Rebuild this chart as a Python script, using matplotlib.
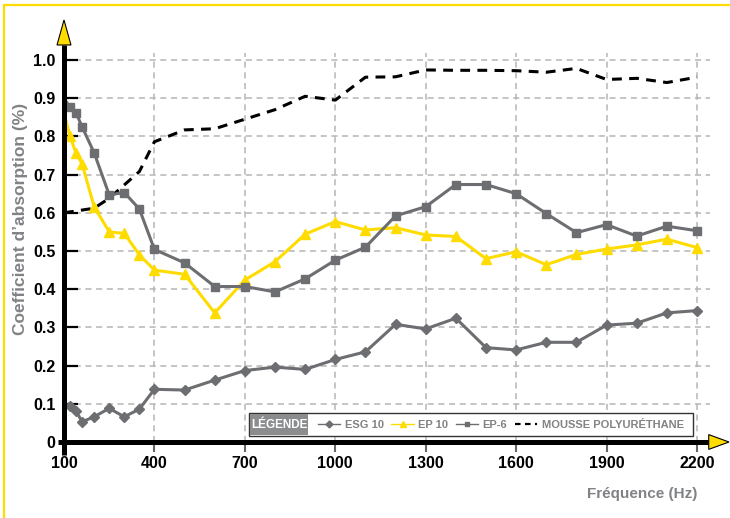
import matplotlib
matplotlib.use("Agg")
import matplotlib.pyplot as plt
from matplotlib.lines import Line2D
from matplotlib.patches import Polygon, Rectangle

plt.rcParams['font.family'] = ['Liberation Sans', 'DejaVu Sans']

# frequencies (Hz)
freq = [100, 120, 140, 160, 200, 250, 300, 350, 400, 500, 600, 700, 800, 900, 1000,
        1100, 1200, 1300, 1400, 1500, 1600, 1700, 1800, 1900, 2000, 2100, 2200]
esg10 = [0.097, 0.095, 0.081, 0.053, 0.066, 0.088, 0.066, 0.086, 0.138, 0.136, 0.162,
         0.187, 0.196, 0.19, 0.216, 0.236, 0.308, 0.296, 0.324, 0.247, 0.241, 0.261,
         0.261, 0.306, 0.311, 0.338, 0.344]
ep10 = [0.86, 0.80, 0.756, 0.728, 0.616, 0.55, 0.546, 0.49, 0.45, 0.439, 0.338,
        0.424, 0.472, 0.544, 0.577, 0.555, 0.561, 0.542, 0.538, 0.48, 0.498, 0.464,
        0.491, 0.505, 0.516, 0.531, 0.509]
ep6 = [0.90, 0.876, 0.862, 0.825, 0.757, 0.647, 0.653, 0.61, 0.504, 0.469, 0.407,
       0.407, 0.393, 0.427, 0.476, 0.51, 0.592, 0.616, 0.674, 0.674, 0.65, 0.598,
       0.548, 0.569, 0.539, 0.565, 0.553]
freq_mousse = [100, 200, 250, 350, 400, 500, 600, 700, 800, 900, 1000, 1100, 1200,
               1300, 1400, 1500, 1600, 1700, 1800, 1900, 2000, 2100, 2200]
mousse = [0.60, 0.612, 0.638, 0.708, 0.786, 0.817, 0.82, 0.845, 0.87, 0.905, 0.895,
          0.955, 0.956, 0.974, 0.973, 0.973, 0.972, 0.968, 0.978, 0.949, 0.952, 0.941,
          0.955]

xticks = [100, 400, 700, 1000, 1300, 1600, 1900, 2200]
yticks = [0, 0.1, 0.2, 0.3, 0.4, 0.5, 0.6, 0.7, 0.8, 0.9, 1.0]
ytick_labels = ['0', '0.1', '0.2', '0.3', '0.4', '0.5', '0.6', '0.7', '0.8', '0.9', '1.0']

GRAY = '#6d6e71'
YELLOW = '#ffdc00'
TXT_GRAY = '#808285'
W, H = 730, 518

fig = plt.figure(figsize=(7.3, 5.18), dpi=100)
# axes box in pixels: left 64, right 710, top 53, bottom 442
ax = fig.add_axes([64 / W, 1 - 442 / H, 646 / W, 389 / H])
ax.set_xlim(100, 100 + 646 / 0.30143)
ax.set_ylim(0, 389 / 382)

# yellow frame round the figure
fig.patches.append(Rectangle((4 / W, -0.02), 1.1, 1 - 5 / H + 0.02, transform=fig.transFigure,
                             fill=False, edgecolor=YELLOW, lw=1.6))

ax.grid(True, color='#b5b5b5', ls=(0, (4, 3)), lw=1.1)
ax.set_axisbelow(True)

ax.plot(freq_mousse, mousse, color='black', lw=2.2, ls=(0, (3.2, 2.4)), zorder=3)
ax.plot(freq, esg10, color=GRAY, lw=2.2, marker='D', ms=5.5, markevery=slice(1, None), zorder=4)
ax.plot(freq, ep10, color=YELLOW, lw=2.2, marker='^', ms=7, markevery=slice(1, None), zorder=4)
ax.plot(freq, ep6, color=GRAY, lw=2.2, marker='s', ms=6, markevery=slice(1, None), zorder=4)

for s in ax.spines.values():
    s.set_visible(False)

# axis lines with yellow arrow heads
ax.plot([0, 0], [-0.033, 1.02], transform=ax.transAxes, color='black', lw=3.6,
        clip_on=False, zorder=5, solid_capstyle='butt')
ax.plot([-0.009, 1.0], [0, 0], transform=ax.transAxes, color='black', lw=3.6,
        clip_on=False, zorder=5, solid_capstyle='butt')
ax.add_patch(Polygon([[-0.0108, 1.0206], [0.0108, 1.0206], [0, 1.085]], closed=True,
                     transform=ax.transAxes, facecolor=YELLOW, edgecolor='black', lw=0.8,
                     clip_on=False, zorder=6))
ax.add_patch(Polygon([[0.998, -0.019], [0.998, 0.019], [1.0294, 0]], closed=True,
                     transform=ax.transAxes, facecolor=YELLOW, edgecolor='black', lw=0.8,
                     clip_on=False, zorder=6))

ax.set_xticks(xticks)
ax.set_xticklabels([str(v) for v in xticks])
ax.set_yticks(yticks)
ax.set_yticklabels(ytick_labels)
ax.tick_params(axis='y', direction='in', length=10, width=1.6, color='black', pad=6,
               labelsize=11.5)
ax.tick_params(axis='x', direction='out', length=7, width=1.5, color='#666666', pad=3,
               labelsize=11.5)
for lab in ax.get_xticklabels() + ax.get_yticklabels():
    lab.set_fontweight('bold')

fig.text(21 / W, 1 - 219 / H, "Coefficient d\u2019absorption (%)", rotation=90,
         ha='center', va='center', color=TXT_GRAY, fontsize=12.5, fontweight='bold')
fig.text(697 / W, 1 - 494 / H, "Fréquence (Hz)", ha='right', va='center',
         color=TXT_GRAY, fontsize=11, fontweight='bold')

# legend
fig.patches.append(Rectangle((249 / W, 1 - 436 / H), 444 / W, 23 / H, transform=fig.transFigure,
                             facecolor='white', edgecolor='#333333', lw=1.0, zorder=7))
fig.patches.append(Rectangle((250 / W, 1 - 435 / H), 58 / W, 21 / H, transform=fig.transFigure,
                             facecolor='#8a8c8e', edgecolor='none', zorder=8))
fig.text(279 / W, 1 - 424.5 / H, "LÉGENDE", ha='center', va='center', color='white',
         fontsize=8.5, fontweight='bold', zorder=9)
handles = [Line2D([], [], color=GRAY, lw=1, marker='D', ms=3.5),
           Line2D([], [], color=YELLOW, lw=1, marker='^', ms=4),
           Line2D([], [], color=GRAY, lw=1, marker='s', ms=3.5),
           Line2D([], [], color='black', lw=1.6, ls=(0, (2.5, 2)))]
labels = ['ESG 10', 'EP 10', 'EP-6', 'MOUSSE POLYURÉTHANE']
leg = fig.legend(handles, labels, loc='center left', bbox_to_anchor=(318 / W, 1 - 424.5 / H),
                 ncol=4, frameon=False, fontsize=8.0, handlelength=2.0, handletextpad=0.4,
                 columnspacing=0.7, borderpad=0, borderaxespad=0)
leg.set_zorder(10)
for t in leg.get_texts():
    t.set_color(TXT_GRAY)
    t.set_fontweight('bold')

fig.savefig("out.png", dpi=100)
